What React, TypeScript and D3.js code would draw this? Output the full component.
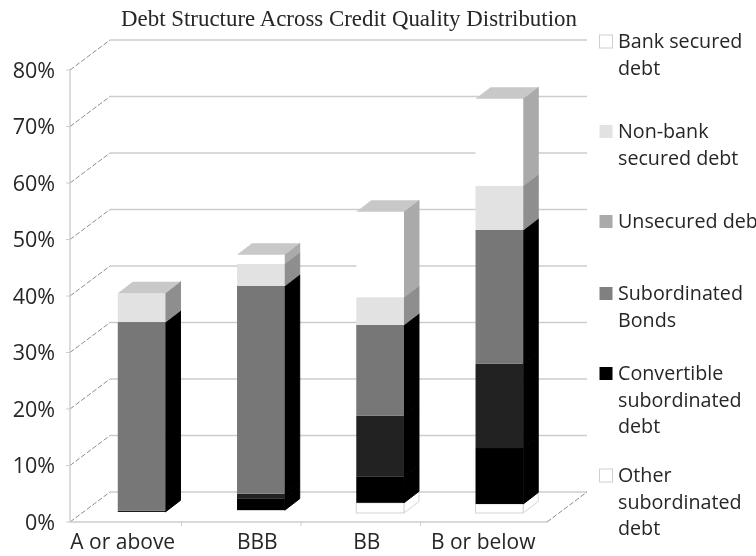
import React from 'react';
import * as d3 from 'd3';

const categories = ['A or above', 'BBB', 'BB', 'B or below'];
const categoryShift = [1, 16, 6, 3];
const yTicks = [0, 10, 20, 30, 40, 50, 60, 70, 80];

// stacked bottom to top
const seriesNames = ['other', 'convertible', 'subordinated', 'unsecured', 'nonBank', 'bank'];
const other = [0.2, 0.5, 1.8, 1.6];
const convertible = [0.2, 2.0, 4.6, 9.9];
const subordinated = [0, 0.9, 10.8, 14.9];
const unsecured = [33.4, 36.8, 16.1, 23.7];
const nonBank = [5.1, 3.9, 4.9, 7.8];
const bank = [0, 1.6, 15.1, 15.4];

const frontColors = ['#ffffff', '#000000', '#232323', '#777777', '#e2e2e2', '#ffffff'];
const sideColors = ['#ffffff', '#000000', '#000000', '#000000', '#8e8e8e', '#aaaaaa'];

const legendLabels = [
  ['Bank secured', 'debt'],
  ['Non-bank', 'secured debt'],
  ['Unsecured debt'],
  ['Subordinated', 'Bonds'],
  ['Convertible', 'subordinated', 'debt'],
  ['Other', 'subordinated', 'debt'],
];
const legendColors = ['#ffffff', '#e2e2e2', '#aaaaaa', '#808080', '#000000', '#ffffff'];
const legendBaselines = [48, 138, 228, 300, 380, 482];

const width = 756;
const height = 556;
const sansFont = '"Open Sans", sans-serif';

// Excel style 3D box: front plane, back wall offset, bars sit in between
const wallDx = 40;
const wallDy = -30;
const barDx = 12;
const barDy = -9;
const sideDx = 15;
const sideDy = -11.5;

const rows = categories.map((c, i) => ({
  category: c,
  other: other[i],
  convertible: convertible[i],
  subordinated: subordinated[i],
  unsecured: unsecured[i],
  nonBank: nonBank[i],
  bank: bank[i],
}));

const App = () => {
  const left = 70;
  const right = 547;
  const y = d3.scaleLinear().domain([0, 80]).range([522, 70]);
  const x = d3
    .scaleBand<string>()
    .domain(categories)
    .range([left, right])
    .paddingInner(0.6)
    .paddingOuter(0.3);
  const floorX = d3.scaleBand<string>().domain(categories).range([62, 540]);
  const stacked = d3.stack<any>().keys(seriesNames)(rows);

  const gridColor = '#cdcdcd';
  const textColor = '#262626';

  return (
    <svg
      width={width}
      height={height}
      style={{ position: 'absolute', left: 0, top: 0, background: '#fff' }}
    >
      <defs>
        <filter id="soft" x="0" y="0" width="100%" height="100%">
          <feGaussianBlur stdDeviation="0.65" />
        </filter>
      </defs>
      <g filter="url(#soft)">
        <text
          x={349}
          y={26}
          textAnchor="middle"
          fontFamily='"Liberation Serif", serif'
          fontSize={22.9}
          fill={textColor}
        >
          Debt Structure Across Credit Quality Distribution
        </text>

        {/* walls */}
        {yTicks.map(t => (
          <g key={t}>
            <line
              x1={left}
              x2={left + wallDx}
              y1={y(t)}
              y2={y(t) + wallDy}
              stroke="#8c8c8c"
              strokeDasharray="5 2"
            />
            <line
              x1={left + wallDx}
              x2={right + wallDx}
              y1={y(t) + wallDy}
              y2={y(t) + wallDy}
              stroke={gridColor}
              strokeWidth={1.6}
            />
            <line x1={left - 4} x2={left} y1={y(t)} y2={y(t)} stroke={gridColor} />
            <text
              x={55}
              y={y(t) + 7.5}
              textAnchor="end"
              fontFamily={sansFont}
              fontSize={21.5}
              fill={textColor}
            >
              {t}%
            </text>
          </g>
        ))}
        <line x1={left} x2={left} y1={y(80)} y2={y(0)} stroke={gridColor} strokeWidth={1.4} />
        <line x1={left} x2={right} y1={y(0)} y2={y(0)} stroke={gridColor} strokeWidth={1.4} />
        <line
          x1={right}
          x2={right + wallDx}
          y1={y(0)}
          y2={y(0) + wallDy}
          stroke="#8c8c8c"
          strokeDasharray="5 2"
        />
        {categories.slice(0, 3).map(c => (
          <line
            key={c}
            x1={(floorX(c) as number) + floorX.bandwidth()}
            x2={(floorX(c) as number) + floorX.bandwidth()}
            y1={y(0)}
            y2={y(0) + 4}
            stroke={gridColor}
          />
        ))}

        {/* bars */}
        {categories.map((c, i) => {
          const x0 = (x(c) as number) + barDx;
          const x1 = x0 + x.bandwidth();
          const total = stacked[stacked.length - 1][i][1];
          const topY = y(total) + barDy;
          return (
            <g key={c}>
              {stacked.map((s, k) => {
                const [v0, v1] = s[i];
                if (v1 - v0 <= 0) return null;
                const yb = y(v0) + barDy;
                const yt = y(v1) + barDy;
                const isBox = k === 0 && v1 > 1;
                return (
                  <g key={s.key}>
                    <polygon
                      points={`${x1},${yb} ${x1 + sideDx},${yb + sideDy} ${x1 + sideDx},${yt + sideDy} ${x1},${yt}`}
                      fill={sideColors[k]}
                      stroke={isBox ? '#d4d4d4' : k === 0 ? 'none' : sideColors[k]}
                      strokeWidth={1}
                    />
                    <rect
                      x={x0}
                      y={yt}
                      width={x.bandwidth()}
                      height={yb - yt}
                      fill={frontColors[k]}
                      stroke={isBox ? '#d4d4d4' : 'none'}
                    />
                  </g>
                );
              })}
              <polygon
                points={`${x0},${topY} ${x0 + sideDx},${topY + sideDy} ${x1 + sideDx},${topY + sideDy} ${x1},${topY}`}
                fill="#c8c8c8"
              />
            </g>
          );
        })}

        {/* category labels */}
        {categories.map((c, i) => (
          <text
            key={c}
            x={(floorX(c) as number) + floorX.bandwidth() / 2 + categoryShift[i]}
            y={549}
            textAnchor="middle"
            fontFamily={sansFont}
            fontSize={21}
            fill={textColor}
          >
            {c}
          </text>
        ))}

        {/* legend */}
        {legendLabels.map((lines, i) => (
          <g key={lines.join(' ')}>
            <rect
              x={599.5}
              y={legendBaselines[i] - 13}
              width={13}
              height={13}
              fill={legendColors[i]}
              stroke={legendColors[i] === '#ffffff' ? '#cfcfcf' : 'none'}
            />
            {lines.map((line, j) => (
              <text
                key={j}
                x={618}
                y={legendBaselines[i] + j * 26.7}
                fontFamily={sansFont}
                fontSize={19.7}
                fill={textColor}
              >
                {line}
              </text>
            ))}
          </g>
        ))}
      </g>
    </svg>
  );
};

export default App;
